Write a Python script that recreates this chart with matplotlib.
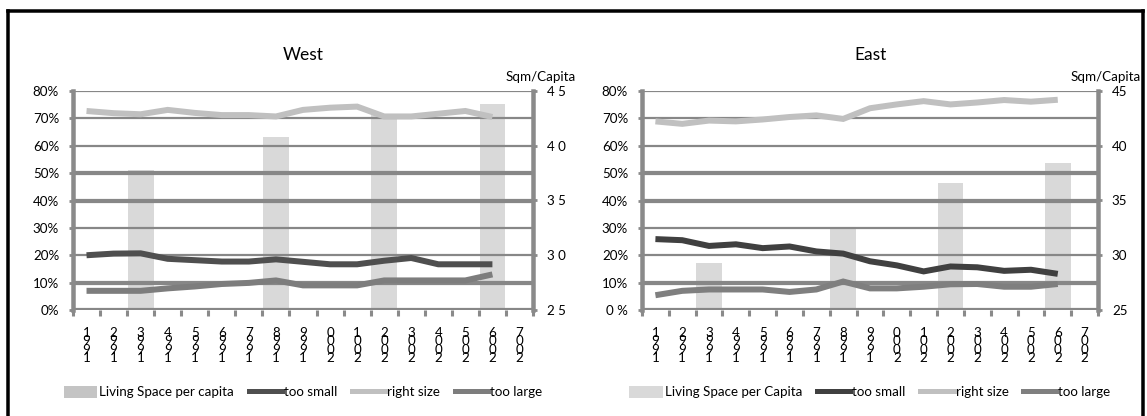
import numpy as np
import matplotlib
matplotlib.use("Agg")
import matplotlib.pyplot as plt
from matplotlib.lines import Line2D
from matplotlib.patches import Patch

plt.rcParams['font.family'] = ['Lato', 'DejaVu Sans']

# ---------------- data ----------------
years = list(range(1991, 2008))
line_years = list(range(1991, 2007))
bar_years = [1993, 1998, 2002, 2006]

west_space = [37.8, 40.8, 42.9, 43.8]
west_too_small = [20.0, 20.6, 20.7, 18.7, 18.2, 17.7, 17.7, 18.5, 17.6, 16.7,
                  16.7, 18.0, 19.0, 16.7, 16.7, 16.7]
west_right_size = [72.7, 71.9, 71.5, 73.1, 72.0, 71.2, 71.2, 70.7, 73.1, 73.9,
                   74.3, 70.7, 70.7, 71.7, 72.7, 70.5]
west_too_large = [7.0, 7.0, 7.0, 7.9, 8.6, 9.5, 9.9, 10.8, 9.0, 9.0,
                  9.0, 10.8, 10.8, 10.8, 10.8, 13.0]

east_space = [29.3, 32.6, 36.6, 38.4]
east_too_small = [25.9, 25.5, 23.4, 24.0, 22.6, 23.2, 21.4, 20.6, 17.8, 16.3,
                  14.1, 15.9, 15.6, 14.3, 14.7, 13.2]
east_right_size = [68.9, 68.0, 69.2, 68.9, 69.6, 70.5, 71.1, 69.8, 73.7, 75.1,
                   76.3, 75.1, 75.8, 76.7, 76.1, 76.8]
east_too_large = [5.4, 7.0, 7.5, 7.5, 7.5, 6.6, 7.5, 10.4, 7.9, 7.9,
                  8.5, 9.4, 9.5, 8.5, 8.5, 9.5]

pct_ticks = [0, 10, 20, 30, 40, 50, 60, 70, 80]
west_pct_labels = ['0%', '10%', '20%', '30%', '40%', '50%', '60%', '70%', '80%']
east_pct_labels = ['0 %', '10%', '20%', '30%', '40%', '50%', '60%', '70%', '80%']
sqm_ticks = [25, 30, 35, 40, 45]
west_sqm_labels = ['2 5', '3 0', '3 5', '4 0', '4 5']
east_sqm_labels = ['25', '30', '35', '40', '45']
year_labels = ['\n'.join(str(y)[::-1]) for y in years]

# ---------------- style ----------------
W, H = 1147, 416
fig = plt.figure(figsize=(W / 100, H / 100), dpi=100)
GRID = '#878787'
SPINE = '#8a8a8a'
thick_grid = {0, 10, 40, 50}
FS = 9.6


def px(v):
    return v * 72 / 100


def panel(left_px, right_px, title, space, small, right, large, space_label,
          pct_labels, sqm_labels, colors, legend_patch_color):
    top_px, bot_px = 91, 310
    ax = fig.add_axes([left_px / W, 1 - bot_px / H, (right_px - left_px) / W,
                       (bot_px - top_px) / H])
    ax2 = ax.twinx()
    ax.set_zorder(ax2.get_zorder() + 1)
    ax.patch.set_visible(False)

    xi_line = [years.index(y) for y in line_years]
    xi_bar = [years.index(y) for y in bar_years]

    ax2.bar(xi_bar, np.subtract(space, 25), bottom=25, width=0.95,
            color=colors['bar'], zorder=1)
    ax2.set_ylim(25, 45)
    ax2.set_yticks(sqm_ticks)
    ax2.set_yticklabels(sqm_labels, fontsize=FS)
    ax2.tick_params(axis='y', length=3, width=2, color=SPINE, pad=7)
    for s in ax2.spines.values():
        s.set_visible(False)

    for v in pct_ticks:
        ax.axhline(v, color=GRID, lw=px(4.2) if v in thick_grid else px(2.2),
                   zorder=0.5)

    ax.plot(xi_line, small, color=colors['small'], lw=px(6),
            solid_joinstyle='miter', solid_capstyle='butt', zorder=3)
    ax.plot(xi_line, right, color=colors['right'], lw=px(6),
            solid_joinstyle='miter', solid_capstyle='butt', zorder=3)
    ax.plot(xi_line, large, color=colors['large'], lw=px(6),
            solid_joinstyle='miter', solid_capstyle='butt', zorder=3)

    ax.set_xlim(-0.5, len(years) - 0.5)
    ax.set_ylim(0, 80)
    ax.set_yticks(pct_ticks)
    ax.set_yticklabels(pct_labels, fontsize=FS)
    ax.tick_params(axis='y', length=3, width=2, color=SPINE, pad=7)

    ax.set_xticks(range(len(years)))
    ax.set_xticklabels(year_labels, fontsize=FS, linespacing=0.66, va='top')
    ax.set_xticks(np.arange(len(years) + 1) - 0.5, minor=True)
    ax.tick_params(axis='x', which='major', length=0, pad=12)
    ax.tick_params(axis='x', which='minor', length=4, width=2.2, color=SPINE)

    for side in ('top', 'bottom'):
        ax.spines[side].set_visible(False)
    for side in ('left', 'right'):
        ax.spines[side].set_color(SPINE)
        ax.spines[side].set_linewidth(px(4.5))

    ax.text(0.5, 1.164, title, transform=ax.transAxes, ha='center',
            va='center', fontsize=12.5)
    ax.text(1.0 + 8 / (right_px - left_px), 1.065, 'Sqm/Capita',
            transform=ax.transAxes, ha='center', va='center', fontsize=FS,
            bbox=dict(boxstyle='square,pad=0.1', fc='white', ec='none'),
            zorder=10)

    handles = [Patch(facecolor=legend_patch_color, edgecolor='none'),
               Line2D([], [], color=colors['small'], lw=px(5)),
               Line2D([], [], color=colors['right'], lw=px(5)),
               Line2D([], [], color=colors['large'], lw=px(5))]
    labels = [space_label, 'too small', 'right size', 'too large']
    ax.legend(handles, labels, loc='center', bbox_to_anchor=(0.5, -0.375),
              ncol=4, frameon=False, fontsize=FS, handlelength=2.5,
              handletextpad=0.15, columnspacing=1.1, handleheight=1.0)
    return ax


west_colors = dict(bar='#d9d9d9', small='#4f4f4f', right='#c0c0c0',
                   large='#7d7d7d')
east_colors = dict(bar='#d9d9d9', small='#404040', right='#c0c0c0',
                   large='#7f7f7f')

panel(73, 533, 'West', west_space, west_too_small, west_right_size,
      west_too_large, 'Living Space per capita', west_pct_labels,
      west_sqm_labels, west_colors, '#c4c4c4')
panel(642, 1098, 'East', east_space, east_too_small, east_right_size,
      east_too_large, 'Living Space per Capita', east_pct_labels,
      east_sqm_labels, east_colors, '#d9d9d9')

# outer frame (left, top, right)
lw_frame = px(3.5)
fig.add_artist(Line2D([8 / W, 8 / W], [0, 1 - 11 / H], color='black',
                      lw=lw_frame, transform=fig.transFigure))
fig.add_artist(Line2D([8 / W, 1143 / W], [1 - 11 / H, 1 - 11 / H],
                      color='black', lw=lw_frame, transform=fig.transFigure))
fig.add_artist(Line2D([1143 / W, 1143 / W], [0, 1 - 11 / H], color='black',
                      lw=lw_frame, transform=fig.transFigure))

fig.savefig('out.png', dpi=100)
